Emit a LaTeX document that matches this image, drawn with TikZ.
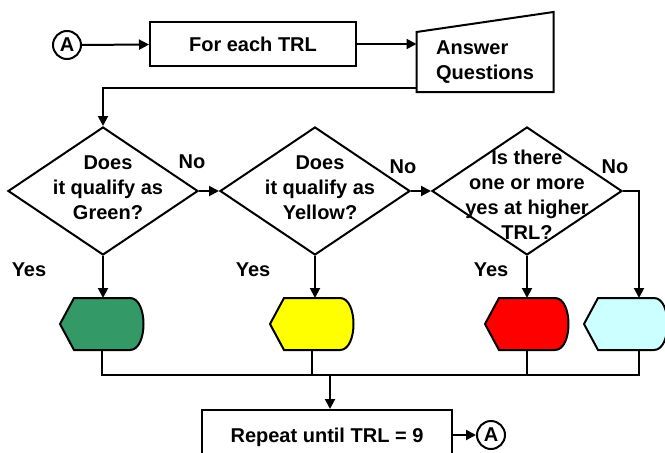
\documentclass[tikz,border=0pt]{standalone}
\usepackage{fontspec}
\setmainfont{Liberation Sans}
\usepackage{xcolor}
\usepackage{tikz}
\usetikzlibrary{shapes,arrows.meta,positioning,calc}

\definecolor{flaggreen}{HTML}{339966}
\definecolor{flagyellow}{HTML}{FFFF00}
\definecolor{flagred}{HTML}{FF0000}
\definecolor{flagcyan}{HTML}{CCFFFF}

\begin{document}
\begin{tikzpicture}[x=1pt, y=-1pt, line width=2pt,
    every node/.style={font=\fontsize{20}{25}\selectfont\bfseries},
    arrow/.style={-{Triangle[length=10pt,width=10pt]}},
    procbox/.style={draw, rectangle, minimum width=206pt, minimum height=44pt},
    connector/.style={draw, circle, minimum size=28pt, inner sep=0pt},
    decision/.style={draw, diamond, minimum width=190pt, minimum height=128pt, inner sep=0pt},
    qtext/.style={align=center},
    flag/.style={minimum width=84pt, minimum height=52pt, inner sep=0pt, outer sep=0pt}]
    \useasboundingbox (0,0) rectangle (665,453);

    % Top row
    \node[connector] (startA) at (67,45) {A};
    \node[procbox] (each) at (253,44) {For each TRL};
    \node[minimum width=137pt, minimum height=60pt, inner sep=0pt, outer sep=0pt, align=left] (answer) at (485,62) {Answer\\Questions};
    \draw (answer.south west) -- (answer.north west) -- ($(answer.north east)+(0,-20)$) -- (answer.south east) -- cycle;
    \draw[arrow] (startA) -- (each);
    \draw[arrow] (each.east) -- (each.east -| answer.west);

    % Decisions
    \node[decision] (d1) at (103,191) {};
    \node[decision] (d2) at (315,191) {};
    \node[decision] (d3) at (527,191) {};
    \node[qtext] (d1t) at ($(d1)+(5,-3)$) {Does\\it qualify as\\Green?};
    \node[qtext] (d2t) at ($(d2)+(5,-3)$) {Does\\it qualify as\\Yellow?};
    \node[qtext] (d3t) at ($(d3)+(0,4)$) {Is there\\one or more\\yes at higher\\TRL?};
    \draw[arrow] ($(answer.south west)+(0,-4)$) -| (d1.north);
    \draw[arrow] (d1) -- (d2);
    \draw[arrow] (d2) -- (d3);
    \coordinate (bend) at ($(d3.east)+(16,0)$);
    \node (no1) at (192,162) {No};
    \node (no2) at (403,167) {No};
    \node (no3) at (615,167) {No};
    \node (yes1) at (29,270) {Yes};
    \node (yes2) at (253,270) {Yes};
    \node (yes3) at (491,270) {Yes};

    % Flags
    \node[flag] (hex1) at (102,324) {};
    \node[flag] (hex2) at (312,324) {};
    \node[flag] (hex3) at (527,324) {};
    \node[flag] (hex4) at (626,324) {};
    \foreach \n/\c in {hex1/flaggreen, hex2/flagyellow, hex3/flagred, hex4/flagcyan}
        \draw[fill=\c] ($(\n.north west)+(14,0)$) -- ($(\n.north east)+(-14,0)$)
            .. controls ($(\n.north east)+(4,0)$) and ($(\n.south east)+(4,0)$) .. ($(\n.south east)+(-14,0)$)
            -- ($(\n.south west)+(14,0)$) -- (\n.west) -- cycle;
    \draw[arrow] (d1.south) -- (d1.south |- hex1.north);
    \draw[arrow] (d2.south) -- (d2.south |- hex2.north);
    \draw[arrow] (d3.south) -- (d3.south |- hex3.north);
    \draw[arrow] (d3.east) -- (bend) -- (bend |- hex4.north);

    % Bottom
    \coordinate (join) at (330,375);
    \node[procbox, minimum width=250pt, minimum height=55pt] (repeat) at (327,437.5) {Repeat until TRL = 9};
    \node[connector] (endA) at (491,435) {A};
    \draw (hex1.south) |- (join) -| (bend |- hex4.south);
    \draw (hex2.south) -- (hex2.south |- join);
    \draw (hex3.south) -- (hex3.south |- join);
    \draw[arrow] (join) -- (join |- repeat.north);
    \draw[arrow] (repeat.east |- endA) -- (endA);
\end{tikzpicture}
\end{document}
